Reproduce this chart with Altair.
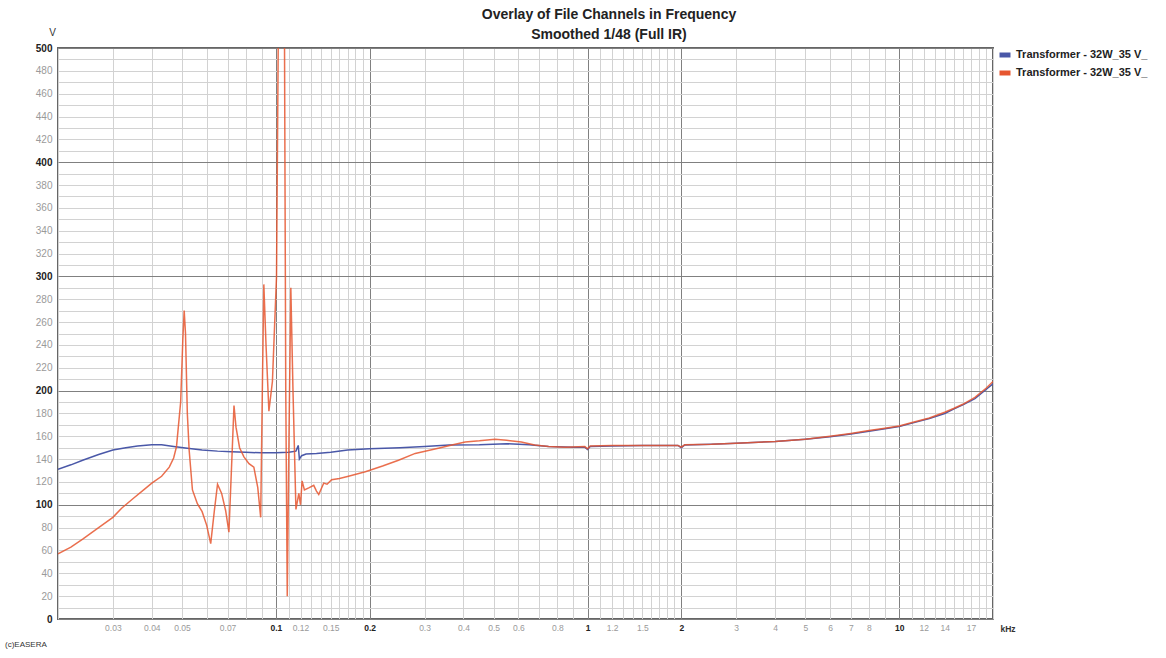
import altair as alt
import pandas as pd

TITLE_LINES = ["Overlay of File Channels in Frequency", "Smoothed 1/48 (Full IR)"]
LEGEND_LABEL = "Transformer - 32W_35 V_"
CREDIT = "(c)EASERA"
SERIES = ["ch1", "ch2"]
COLORS = ["#4a58a8", "#e6562f"]
FONT = "Liberation Sans"

# Channel 1 (blue) : frequency in kHz, level in V
blue_freq = [0.020, 0.022, 0.024, 0.027, 0.030, 0.033, 0.036, 0.040, 0.043, 0.047,
             0.052, 0.058, 0.065, 0.072, 0.080, 0.090, 0.100, 0.110, 0.116, 0.118,
             0.119, 0.121, 0.125, 0.135, 0.150, 0.170, 0.200, 0.250, 0.300, 0.360,
             0.450, 0.550, 0.650, 0.750, 0.900, 0.980, 1.00, 1.02, 1.2, 1.5,
             1.95, 2.0, 2.05, 2.5, 3.0, 4.0, 5.0, 6.0, 7.0, 8.0,
             9.0, 10.0, 11.0, 12.5, 14.0, 15.0, 16.0, 17.5, 19.0, 20.0]
blue_volt = [131, 135, 139, 144, 148, 150, 151.5, 152.5, 152.5, 151,
             149.5, 148, 147, 146.5, 146, 145.5, 145.5, 146, 147, 152,
             140, 143, 144.5, 145, 146, 148, 149, 150, 151, 152.4,
             152.5, 153.5, 152.5, 151, 150.5, 150.5, 148.5, 151, 151.5, 152,
             152, 150, 152.4, 153, 153.8, 155.5, 157.5, 159.5, 162, 164.5,
             166.5, 168.5, 171.5, 175.5, 180, 184, 187.5, 193, 201, 206]

# Channel 2 (red)
red_freq = [0.020, 0.022, 0.024, 0.027, 0.030, 0.032, 0.035, 0.038, 0.040, 0.043,
            0.0455, 0.047, 0.048, 0.0495, 0.0503, 0.0508, 0.0513, 0.0520, 0.0527, 0.0540,
            0.0560, 0.0580, 0.0600, 0.0618, 0.0635, 0.0650, 0.0670, 0.0690, 0.0707, 0.0725,
            0.0734, 0.0745, 0.0765, 0.0790, 0.0820, 0.0850, 0.0875, 0.0894, 0.0905, 0.0915,
            0.0930, 0.0950, 0.0975, 0.1005, 0.1020, 0.1045, 0.1065, 0.1076, 0.1088, 0.1102,
            0.1117, 0.1135, 0.1160, 0.1185, 0.1200, 0.1214, 0.1235, 0.1280, 0.1323, 0.1350,
            0.1373, 0.1424, 0.1460, 0.1510, 0.1600, 0.1710, 0.1937, 0.2200, 0.2475, 0.2800,
            0.3320, 0.3700, 0.4050, 0.4500, 0.5050, 0.5500, 0.6130, 0.6770, 0.7500, 0.8500,
            0.9800, 1.00, 1.02, 1.2, 1.5, 1.95, 2.0, 2.05, 2.5, 3.0,
            4.0, 5.0, 6.0, 7.0, 8.0, 9.0, 10.0, 11.0, 12.5, 14.0,
            15.0, 16.0, 17.5, 19.0, 20.0]
red_volt = [57, 63, 70, 80, 89, 97, 106, 114, 119, 125,
            133, 141, 151, 190, 245, 270, 250, 180, 148, 113,
            101, 94, 82, 66, 95, 118, 110, 95, 76, 150,
            187, 168, 150, 142, 136, 133, 115, 89, 200, 293,
            240, 182, 208, 300, 540, 600, 540, 200, 20, 160,
            290, 200, 96, 110, 100, 121, 113, 115, 117, 112,
            109, 119, 118, 122, 123, 125, 129, 134, 139, 145,
            149.5, 152.5, 155, 156, 157.5, 156.5, 155, 152.4, 151, 150.5,
            151, 149, 151.5, 152, 152, 152, 150.5, 152.5, 153, 154,
            155.5, 157.5, 160, 162.5, 165, 167, 169, 172, 176, 181,
            184.5, 188, 194, 202, 208]

# Axis grid / labels
x_grid = [0.02, 0.03, 0.04, 0.05, 0.06, 0.07, 0.08, 0.09,
          0.1, 0.11, 0.12, 0.13, 0.14, 0.15, 0.16, 0.17, 0.18, 0.19,
          0.2, 0.3, 0.4, 0.5, 0.6, 0.7, 0.8, 0.9,
          1, 1.1, 1.2, 1.3, 1.4, 1.5, 1.6, 1.7, 1.8, 1.9,
          2, 3, 4, 5, 6, 7, 8, 9,
          10, 11, 12, 13, 14, 15, 16, 17, 18, 19, 20]
x_labels = [0.03, 0.04, 0.05, 0.07, 0.1, 0.12, 0.15, 0.2, 0.3, 0.4, 0.5, 0.6, 0.8,
            1, 1.2, 1.5, 2, 3, 4, 5, 6, 7, 8, 10, 12, 14, 17]
x_bold = [0.1, 0.2, 1, 2, 10]
y_grid = list(range(0, 501, 10))


def js_list(vals):
    return "[" + ",".join(repr(v) for v in vals) + "]"


rows = []
for f, v in zip(blue_freq, blue_volt):
    rows.append({"f": f, "v": v, "series": SERIES[0]})
for f, v in zip(red_freq, red_volt):
    rows.append({"f": f, "v": v, "series": SERIES[1]})
df = pd.DataFrame(rows)

W, H = 935, 571

x_bold_test = f"indexof({js_list(x_bold)}, datum.value) >= 0"
x_axis = alt.Axis(
    values=x_grid,
    labelExpr=f"indexof({js_list(x_labels)}, datum.value) >= 0 ? '' + datum.value : ''",
    labelColor={"condition": {"test": x_bold_test, "value": "#222222"}, "value": "#9a9a9a"},
    labelFontWeight={"condition": {"test": x_bold_test, "value": "bold"}, "value": "normal"},
    gridColor={"condition": {"test": x_bold_test, "value": "#808080"}, "value": "#d2d2d2"},
    grid=True, ticks=False, domain=False,
    labelFont=FONT, labelFontSize=8.5, labelPadding=4,
    labelOverlap=False, labelFlush=False, labelBound=False,
    title="kHz", titleFont=FONT, titleFontSize=8.5, titleFontWeight="bold", titleColor="#333333",
    titleAngle=0, titleAlign="left", titleBaseline="middle", titleX=W + 7, titleY=9,
)

y_major = "datum.value % 100 == 0"
y_axis = alt.Axis(
    values=y_grid,
    labelExpr="datum.value % 20 == 0 ? '' + datum.value : ''",
    labelColor={"condition": {"test": y_major, "value": "#222222"}, "value": "#9a9a9a"},
    labelFontWeight={"condition": {"test": y_major, "value": "bold"}, "value": "normal"},
    gridColor={"condition": {"test": y_major, "value": "#808080"}, "value": "#d2d2d2"},
    grid=True, ticks=False, domain=False,
    labelFont=FONT, labelFontSize=10, labelPadding=6,
    labelOverlap=False, labelFlush=False, labelBound=False,
    title="V", titleFont=FONT, titleFontSize=10, titleFontWeight="normal", titleColor="#333333",
    titleAngle=0, titleAlign="center", titleBaseline="bottom", titleX=-6, titleY=-11,
)

lines = alt.Chart(df).mark_line(clip=True, strokeWidth=1.5).encode(
    x=alt.X("f:Q", scale=alt.Scale(type="log", domain=[0.02, 20], nice=False), axis=x_axis),
    y=alt.Y("v:Q", scale=alt.Scale(domain=[0, 500], nice=False), axis=y_axis),
    color=alt.Color(
        "series:N",
        scale=alt.Scale(domain=SERIES, range=COLORS),
        legend=alt.Legend(
            orient="none", legendX=W + 4, legendY=-1, title=None,
            labelExpr=f"'{LEGEND_LABEL}'",
            symbolType="stroke", symbolStrokeWidth=5, symbolSize=121,
            labelFont=FONT, labelFontSize=11, labelFontWeight="bold", labelColor="#222222",
            labelOffset=3, rowPadding=-3, labelLimit=240,
        ),
    ),
    opacity=alt.condition(alt.datum.series == SERIES[1], alt.value(0.85), alt.value(1.0)),
)

title1 = alt.Chart(pd.DataFrame({"t": [TITLE_LINES[0]]})).mark_text(
    align="center", baseline="middle", font=FONT, fontSize=14, fontWeight="bold", color="#222222"
).encode(x=alt.value(551), y=alt.value(-33), text="t:N")

title2 = alt.Chart(pd.DataFrame({"t": [TITLE_LINES[1]]})).mark_text(
    align="center", baseline="middle", font=FONT, fontSize=14, fontWeight="bold", color="#222222"
).encode(x=alt.value(551), y=alt.value(-13), text="t:N")

credit = alt.Chart(pd.DataFrame({"t": [CREDIT]})).mark_text(
    align="left", baseline="middle", font=FONT, fontSize=8, color="#333333"
).encode(x=alt.value(-53), y=alt.value(H + 26), text="t:N")

chart = alt.layer(lines, title1, title2, credit).properties(
    width=W, height=H,
    autosize=alt.AutoSizeParams(type="none"),
    padding={"left": 58, "top": 48, "right": 1166 - 58 - W, "bottom": 658 - 48 - H},
    background="white",
).configure_view(stroke="#666666", strokeWidth=2)

chart.save("out.html", embed_options={"renderer": "svg", "actions": False})
